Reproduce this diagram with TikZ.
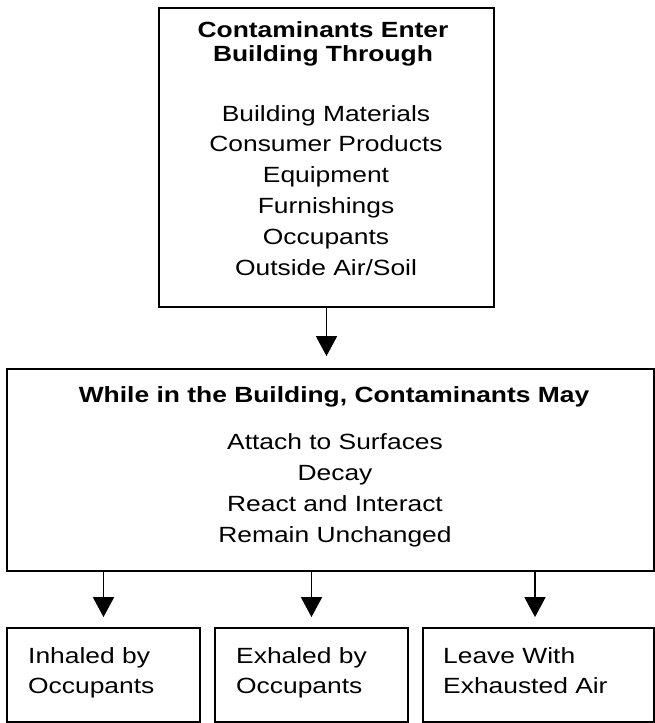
\documentclass[tikz,border=0pt]{standalone}
\usepackage{fontspec}
\setmainfont{Liberation Sans}[FakeStretch=1.2]
\usetikzlibrary{arrows.meta,positioning}

\tikzset{
    box/.style={draw, line width=1.8pt, inner sep=0pt},
    headtext/.style={font=\bfseries\fontsize{22}{23.5}\selectfont, align=center, inner sep=0pt},
    itemtext/.style={font=\fontsize{22}{30.8}\selectfont, align=center, inner sep=0pt},
    leaftext/.style={font=\fontsize{22}{30}\selectfont, align=left, inner sep=0pt, anchor=base west},
    flow/.style={-{Triangle[width=21pt,length=20pt]}, line width=1.8pt},
}

\begin{document}
\begin{tikzpicture}[x=1pt, y=-1pt]
            \useasboundingbox (0, 0) rectangle (655, 723);

            \node[box, minimum width=335pt, minimum height=299pt] (enter) at (326.5, 157.5) {};
            \node[headtext, anchor=base] (enterhead) at (323, 61)
                {Contaminants Enter\\Building Through};
            \node[itemtext, anchor=base] (sources) at (326, 275)
                {Building Materials\\Consumer Products\\Equipment\\Furnishings\\Occupants\\Outside Air/Soil};

            \node[box, minimum width=647pt, minimum height=202pt] (inside) at (330.5, 470) {};
            \node[headtext, anchor=base] (insidehead) at (334, 402)
                {While in the Building, Contaminants May};
            \node[itemtext, anchor=base] (fates) at (335, 542)
                {Attach to Surfaces\\Decay\\React and Interact\\Remain Unchanged};

            \node[box, minimum width=193pt, minimum height=94pt] (inhaled) at (103.5, 675) {};
            \node[box, minimum width=193pt, minimum height=94pt] (exhaled) at (311.5, 675) {};
            \node[box, minimum width=231pt, minimum height=94pt] (leave) at (538.5, 675) {};
            \node[leaftext] (inhaledtext) at (28, 693) {Inhaled by\\Occupants};
            \node[leaftext] (exhaledtext) at (236, 693) {Exhaled by\\Occupants};
            \node[leaftext] (leavetext) at (443, 693) {Leave With\\Exhausted Air};

            \draw[flow, shorten >=12pt] (enter.south) -- (enter.south |- inside.north);
            \draw[flow, shorten >=10pt] (inhaled.north |- inside.south) -- (inhaled.north);
            \draw[flow, shorten >=10pt] (exhaled.north |- inside.south) -- (exhaled.north);
            \draw[flow, shorten >=10pt] (535, 571) -- (leave.north -| 535, 0);
        \end{tikzpicture}
\end{document}
